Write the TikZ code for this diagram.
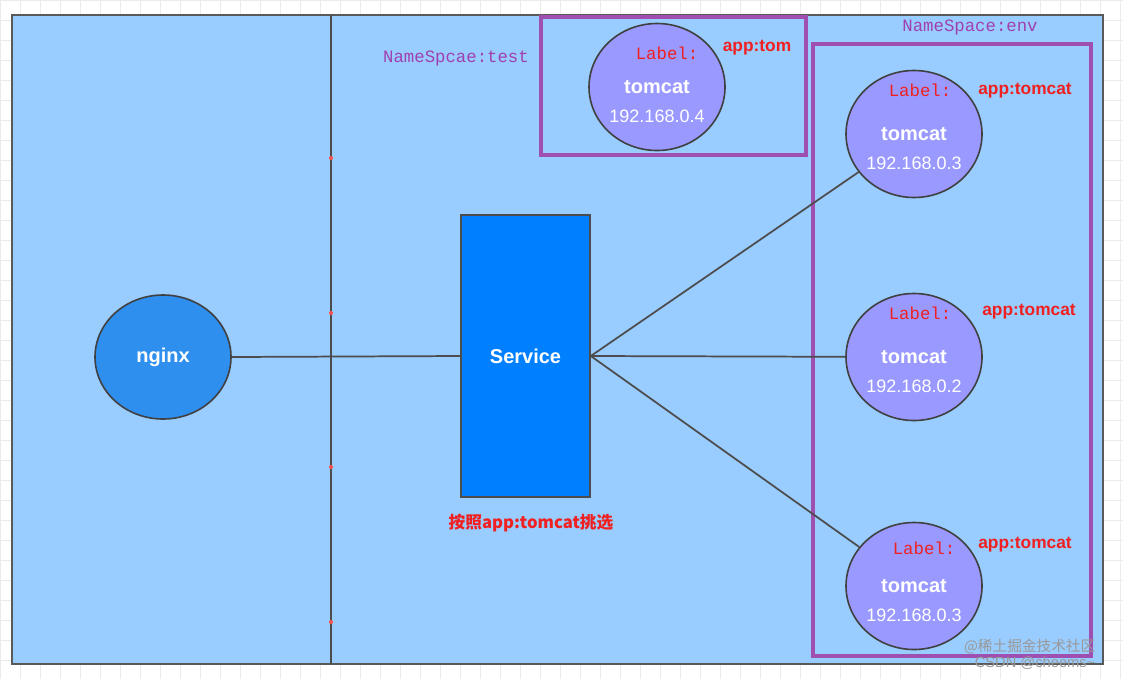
\documentclass[tikz,border=0pt]{standalone}
\usepackage{fontspec}
\usetikzlibrary{shapes.geometric}
\setmainfont{Liberation Sans}
\setmonofont{Liberation Mono}
\newfontfamily\cjk{Noto Sans CJK SC}
\begin{document}
\begin{tikzpicture}[x=0.75pt,y=-0.75pt,
  pod/.style={draw=black!75,line width=1.2pt,fill=pod,inner sep=0pt},
  ns/.style={draw=nsc,line width=2.6pt},
  conn/.style={draw=black!70,line width=1.3pt},
  mono/.style={font=\ttfamily\fontsize{13}{15}\selectfont},
  red/.style={text=redc,font=\bfseries\fontsize{13}{15}\selectfont},
  wt/.style={text=white,font=\bfseries\fontsize{15}{17}\selectfont}]
\definecolor{bg}{HTML}{99CCFF}
\definecolor{pod}{HTML}{9999FF}
\definecolor{nsc}{HTML}{9E4FB0}
\definecolor{redc}{HTML}{F02020}
\definecolor{nsText}{HTML}{A040B0}
\definecolor{ngc}{HTML}{2E8FEF}
\definecolor{svcc}{HTML}{0080FF}
\useasboundingbox (0,0) rectangle (1123,679);
\fill[white] (0,0) rectangle (1123,679);
\foreach \x in {0,20,...,1120} \draw[black!8] (\x,0) -- (\x,679);
\foreach \y in {0,20,...,679} \draw[black!8] (0,\y) -- (1123,\y);
\draw[fill=bg,draw=black!65,line width=1.2pt] (12,15) rectangle (1103,664);
\draw[conn] (331,15) -- (331,664);
\foreach \y in {158,313,467,622} \fill[red!70] (331,\y) circle (2);
\node[ns,minimum width=265*0.75pt,minimum height=138*0.75pt] (nst) at (673.5,86) {};
\node[ns,minimum width=278*0.75pt,minimum height=612*0.75pt] (nse) at (952,350) {};
\node[mono,text=nsText] (nstl) at (456,58) {NameSpcae:test};
\node[mono,text=nsText] (nsel) at (970,27) {NameSpace:env};
\node[pod,fill=ngc,ellipse,minimum width=136*0.75pt,minimum height=124*0.75pt] (ng) at (163,357) {};
\node[wt] at (ng) {nginx};
\node[draw=black!70,line width=1.2pt,fill=svcc,minimum width=129*0.75pt,minimum height=282*0.75pt] (svc) at (525.5,356) {};
\node[wt] at (svc) {Service};
\draw[conn] (ng.east) -- (svc.west);
\node[text=redc,font=\cjk\bfseries\fontsize{12.5}{14}\selectfont] (sel) at (531,523) {按照app:tomcat挑选};
\foreach \n/\x/\y/\ip/\lx/\ly/\ax/\ay/\app in {t4/657/87/192.168.0.4/667/53/757/48/app:tom, t3/914/134/192.168.0.3/920/90/1025/91/app:tomcat, t2/914/357/192.168.0.2/920/313/1029/312/app:tomcat, t1/914/586/192.168.0.3/924/548/1025/545/app:tomcat}{
  \node[pod,ellipse,minimum width=136*0.75pt,minimum height=127*0.75pt] (\n) at (\x,\y) {};
  \node[wt] (\n n) at (\x,\y) {tomcat};
  \node[text=white,font=\fontsize{13.5}{15}\selectfont] (\n i) at (\x,\y+29) {\ip};
  \node[mono,text=redc] (\n l) at (\lx,\ly) {Label:};
  \node[red] (\n a) at (\ax,\ay) {\app};
}
\draw[conn] (svc.east) -- (t3);
\draw[conn] (svc.east) -- (t2);
\draw[conn] (svc.east) -- (t1);
\node[text=black!40,font=\cjk\fontsize{11}{12}\selectfont,anchor=east] (w1) at (1100,647) {@稀土掘金技术社区};
\node[text=black!40,font=\fontsize{11}{12}\selectfont,anchor=east] (w2) at (1100,663) {CSDN @cheems\textasciitilde};
\end{tikzpicture}
\end{document}
